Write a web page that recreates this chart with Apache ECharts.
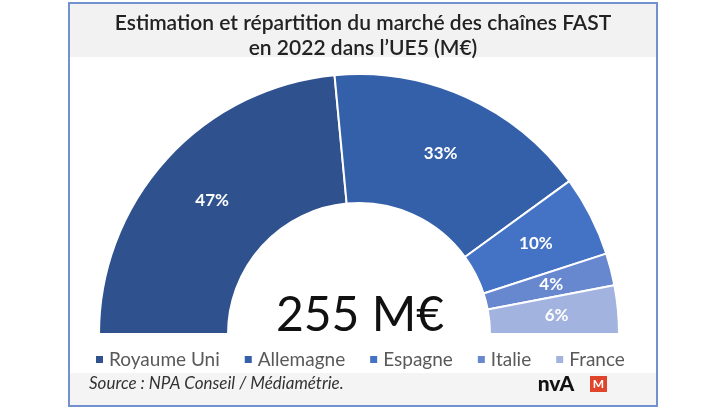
<!DOCTYPE html>
<html><head><meta charset="utf-8">
<script src="https://cdn.jsdelivr.net/npm/echarts@6/dist/echarts.min.js"></script>
<style>html,body{margin:0;padding:0;background:#fff;}#c{width:728px;height:410px;}</style>
</head><body><div id="c"></div>
<script>
const categories = ['Royaume Uni', 'Allemagne', 'Espagne', 'Italie', 'France'];
const shares = [47, 33, 10, 4, 6];
const colors = ['#2f528f', '#3460aa', '#4472c4', '#6787cf', '#a1b3de'];
const titleLines = ['Estimation et répartition du marché des chaînes FAST', 'en 2022 dans l\u2019UE5 (M€)'];
const totalText = '255 M€';
const sourceText = 'Source : NPA Conseil / Médiamétrie.';

const chart = echarts.init(document.getElementById('c'), null, {renderer: 'canvas'});
const font = 'Lato, "Open Sans", sans-serif';
chart.setOption({
  backgroundColor: '#ffffff',
  animation: false,
  graphic: [
    {type: 'rect', shape: {x: 69, y: 3, width: 588, height: 403}, style: {fill: '#ffffff', stroke: '#7391cf', lineWidth: 2}, z: -10},
    {type: 'rect', shape: {x: 70, y: 4, width: 586, height: 53}, style: {fill: '#f2f2f2'}, z: -9},
    {type: 'rect', shape: {x: 70, y: 373, width: 586, height: 32}, style: {fill: '#f4f4f4'}, z: -9},
    {type: 'text', x: 363, y: 23, style: {text: titleLines[0], font: '600 21px ' + font, fill: '#222', align: 'center', verticalAlign: 'middle'}},
    {type: 'text', x: 363, y: 48, style: {text: titleLines[1], font: '600 21px ' + font, fill: '#222', align: 'center', verticalAlign: 'middle'}},
    {type: 'text', x: 360, y: 316, style: {text: totalText, font: '48px ' + font, fill: '#111', align: 'center', verticalAlign: 'middle'}},
    {type: 'text', x: 89, y: 384, style: {text: sourceText, font: 'italic 17px ' + font, fill: '#333', align: 'left', verticalAlign: 'middle'}},
    {type: 'text', x: 556, y: 384, style: {text: 'nvA', font: '900 21px ' + font, fill: '#111', align: 'center', verticalAlign: 'middle'}},
    {type: 'rect', shape: {x: 590, y: 376, width: 17, height: 16}, style: {fill: '#e0452b'}},
    {type: 'text', x: 598.5, y: 384.5, style: {text: 'M', font: 'bold 12px ' + font, fill: '#fff', align: 'center', verticalAlign: 'middle'}}
  ],
  legend: {
    data: categories,
    left: 89, top: 345,
    itemWidth: 9, itemHeight: 9, itemGap: 23,
    icon: 'rect',
    textStyle: {fontFamily: font, fontSize: 19, color: '#595959'}
  },
  series: [{
    type: 'pie',
    center: [359, 334],
    radius: [131, 260],
    startAngle: 180,
    endAngle: 0,
    clockwise: true,
    avoidLabelOverlap: false,
    itemStyle: {borderColor: '#ffffff', borderWidth: 2},
    label: {show: true, position: 'inside', formatter: '{c}%', color: '#ffffff', fontFamily: font, fontWeight: 'bold', fontSize: 17},
    labelLine: {show: false},
    emphasis: {disabled: true},
    data: categories.map((n, i) => ({name: n, value: shares[i], itemStyle: {color: colors[i]}}))
  }]
});
</script></body></html>
